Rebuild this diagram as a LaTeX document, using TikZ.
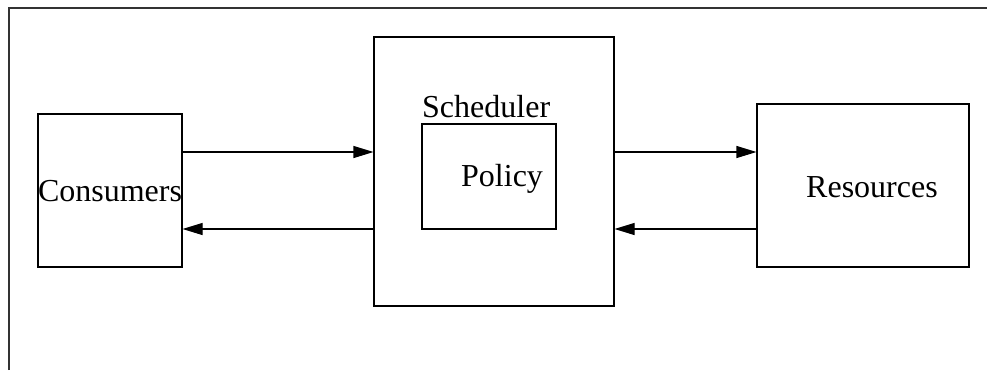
\documentclass[tikz,border=0pt]{standalone}
\usepackage{fontspec}
\setmainfont{Liberation Serif}
\usetikzlibrary{positioning,arrows.meta}
\tikzset{
	blk/.style={draw,line width=1.1pt,inner sep=0pt},
	txt/.style={font=\fontsize{32}{38}\selectfont,inner sep=0pt},
	flow/.style={line width=1.1pt,-{Triangle[length=20pt,width=12pt]}}
}
\begin{document}
\begin{tikzpicture}[x=1pt,y=-1pt]
		\useasboundingbox (0,0) rectangle (987,370);
		\draw[line width=1.5pt,black!80] (9,370)--(9,8)--(987,8);
		\node (cons) at (110,190.5) [blk,minimum width=144pt,minimum height=153pt]{};
		\node (sched) at (494,171.5) [blk,minimum width=240pt,minimum height=269pt]{};
		\node (pol) at (489,176.5) [blk,minimum width=134pt,minimum height=105pt]{};
		\node (res) at (863,185.5) [blk,minimum width=212pt,minimum height=163pt]{};
		\node (conslbl) at (110,201) [txt,anchor=base]{Consumers};
		\node (schedlbl) at (422,117) [txt,anchor=base west]{Scheduler};
		\node (pollbl) at (461,186) [txt,anchor=base west]{Policy};
		\node (reslbl) at (806,197) [txt,anchor=base west]{Resources};
		\coordinate (upper) at (0,152);
		\coordinate (lower) at (0,229);
		\draw[flow] (cons.east |- upper)--(sched.west |- upper);
		\draw[flow] (sched.west |- lower)--(cons.east |- lower);
		\draw[flow] (sched.east |- upper)--(res.west |- upper);
		\draw[flow] (res.west |- lower)--(sched.east |- lower);
	\end{tikzpicture}
\end{document}
